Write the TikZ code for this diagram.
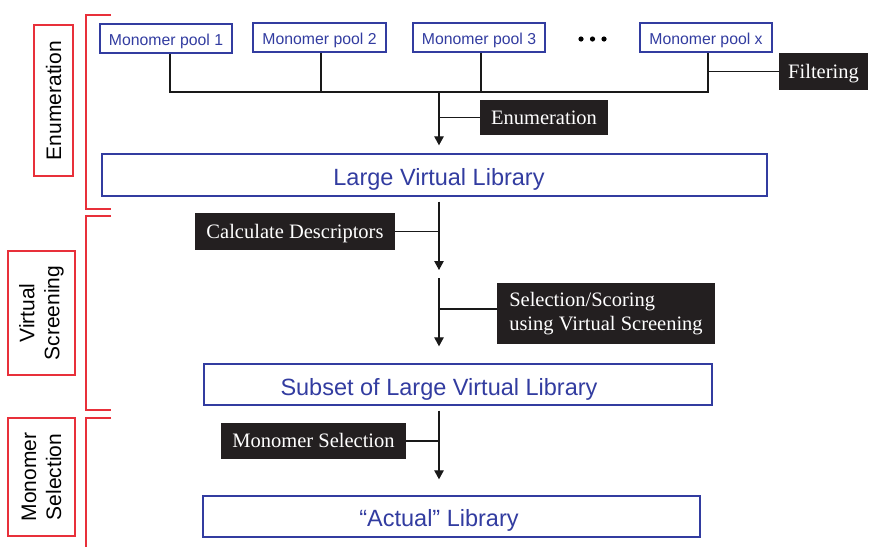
\documentclass[tikz,border=0pt]{standalone}
\usepackage{fontspec}
\setmainfont{Liberation Sans}
\newfontfamily\serifface{Liberation Serif}
\usetikzlibrary{arrows.meta}
\definecolor{dblue}{RGB}{50,60,160}
\definecolor{lred}{RGB}{232,48,58}
\definecolor{boxblack}{RGB}{35,31,32}
\begin{document}
\begin{tikzpicture}[x=1pt,y=-1pt,
 pool/.style={draw=dblue, line width=1.2pt, text=dblue, inner sep=0pt, minimum width=132pt, minimum height=29pt, text height=13pt, text depth=0pt, font=\fontsize{15.8}{18}\selectfont},
 libbox/.style={draw=dblue, line width=1.4pt, inner sep=0pt},
 libtext/.style={text=dblue, inner sep=0pt, anchor=base, font=\fontsize{23.5}{26}\selectfont},
 blkbase/.style={fill=boxblack, text=white, inner sep=0pt, font=\serifface\fontsize{20.5}{24.5}\selectfont},
 blk/.style={blkbase, text height=13pt, text depth=0pt},
 phase/.style={draw=lred, line width=1.3pt, rotate=90, inner sep=0pt, align=center, font=\fontsize{21}{25}\selectfont},
 brk/.style={draw=lred, line width=1.3pt},
 conn/.style={draw=black!90, line width=1.1pt},
 arr/.style={conn, -{Triangle[width=9.5pt,length=9pt]}},
]
\useasboundingbox (0,0) rectangle (869,547);

% phase labels and brackets
\node[phase, minimum width=151pt, minimum height=39pt] (ph1) at (53.5,100.5) {Enumeration};
\node[phase, minimum width=124pt, minimum height=67pt] (ph2) at (41.5,313) {Virtual\\Screening};
\node[phase, minimum width=118pt, minimum height=67pt] (ph3) at (41.5,477) {Monomer\\Selection};
\draw[brk] (111,15) -| (86,209) -- (111,209);
\draw[brk] (111,216) -| (86,410) -- (111,410);
\draw[brk] (111,418) -| (86,547);

% monomer pools
\node[pool] (pool1) at (166,38.5) {Monomer pool 1};
\node[pool, minimum width=133pt] (pool2) at (319.5,37.5) {Monomer pool 2};
\node[pool] (pool3) at (479,37.5) {Monomer pool 3};
\node[pool] (poolx) at (706,37.5) {Monomer pool x};
\fill (581,39) circle (2.6pt) (592.5,39) circle (2.6pt) (604,39) circle (2.6pt);

% black process boxes
\node[blk, minimum width=89pt, minimum height=37pt] (filt) at (823.5,71.5) {Filtering};
\node[blk, minimum width=128pt, minimum height=35pt] (enum) at (544,117.5) {Enumeration};
\node[blk, minimum width=200pt, minimum height=37pt] (calc) at (295,231.5) {Calculate Descriptors};
\node[blkbase, minimum width=218pt, minimum height=61pt, align=left] (sel) at (606,313.5) {Selection/Scoring\\using Virtual Screening};
\node[blk, minimum width=185pt, minimum height=36pt] (msel) at (313.5,441) {Monomer Selection};

% library boxes
\node[libbox, minimum width=665pt, minimum height=42pt] (lvl) at (434.5,175) {};
\node[libtext] (lvlt) at (439,185) {Large Virtual Library};
\node[libbox, minimum width=508pt, minimum height=41pt] (sub) at (458,384.5) {};
\node[libtext] (subt) at (439,395) {Subset of Large Virtual Library};
\node[libbox, minimum width=497pt, minimum height=41pt] (act) at (451.5,516.5) {};
\node[libtext] (actt) at (439,526.5) {``Actual'' Library};

% connectors
\coordinate (busL) at (170,92);
\coordinate (busR) at (708,92);
\coordinate (busM) at (439,92);
\coordinate (mid1) at (439,274);
\draw[conn] ([xshift=4pt]pool1.south) -- (busL) -- (busR) -- ([xshift=2pt]poolx.south);
\draw[conn] ([xshift=1.5pt]pool2.south) -- ([xshift=1.5pt]pool2.south |- busL);
\draw[conn] ([xshift=2pt]pool3.south) -- ([xshift=2pt]pool3.south |- busL);
\draw[conn] (filt.west) -- (filt.west -| busR);
\draw[arr, shorten >=8pt] (busM) -- (busM |- lvl.north);
\draw[conn] (enum.west) -- (enum.west -| busM);
\draw[arr, shorten <=5pt, shorten >=4pt] (lvl.south -| busM) -- (mid1);
\draw[conn] (calc.east) -- (calc.east -| busM);
\draw[arr, shorten <=4pt, shorten >=17pt] (mid1) -- (mid1 |- sub.north);
\draw[conn] ([yshift=4.5pt]sel.west) -- ([yshift=4.5pt]sel.west -| busM);
\draw[arr, shorten <=5pt, shorten >=16pt] (sub.south -| busM) -- (busM |- act.north);
\draw[conn] (msel.east) -- (msel.east -| busM);
\end{tikzpicture}
\end{document}
